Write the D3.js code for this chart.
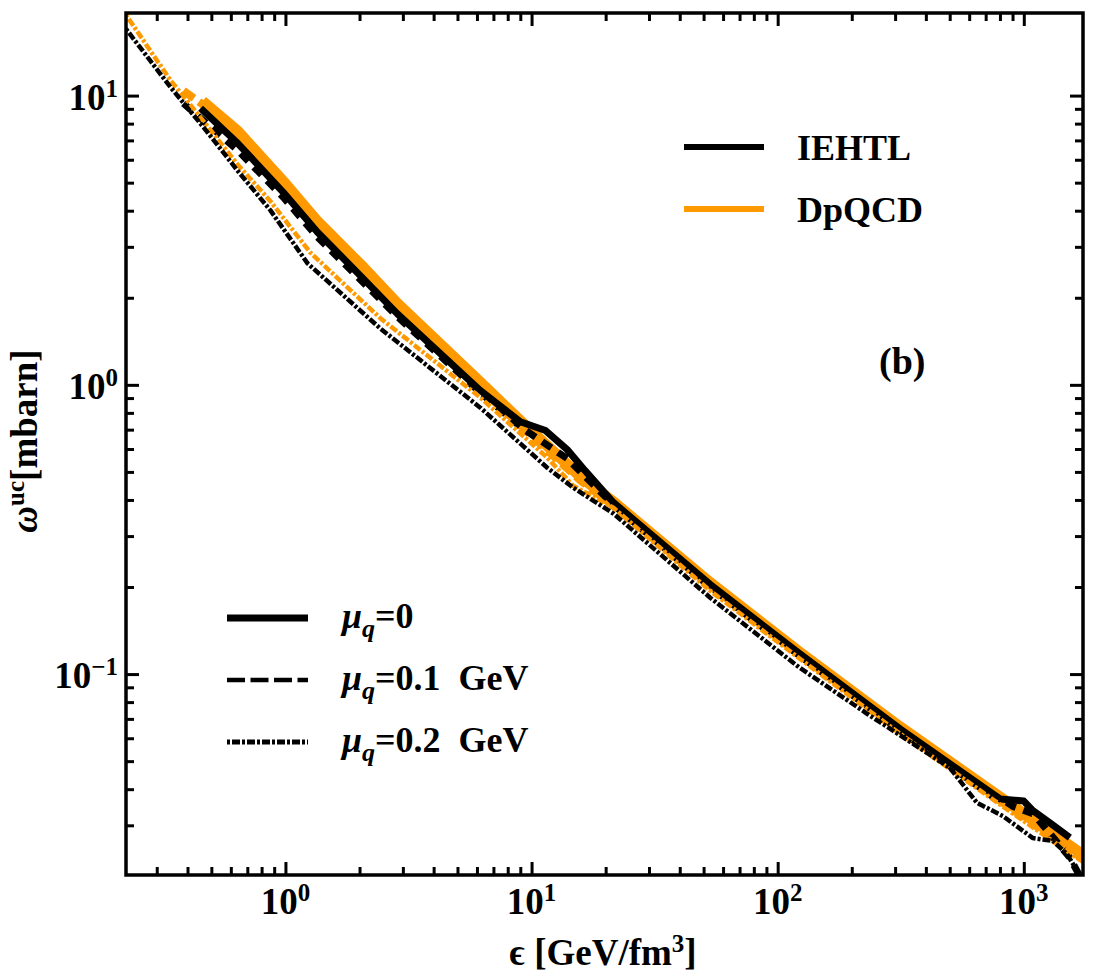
<!DOCTYPE html>
<html>
<head>
<meta charset="utf-8">
<script src="https://cdn.jsdelivr.net/npm/d3@7"></script>
<style>
  body { margin: 0; background: #fff; }
  svg text { font-family: "Liberation Serif", "Times New Roman", Tinos, "Noto Serif", "DejaVu Serif", serif; font-weight: bold; fill: #000; }
</style>
</head>
<body>
<script>
var Chart = {
  width : 1095,
  height : 980,
  left : 126,
  top : 13,
  right : 1083,
  bottom : 875
};

// energy density eps [GeV/fm^3] and omega^uc [mbarn]
// IEHTL, mu_q = 0
var iehtl0Eps = [0.452, 0.64, 0.98, 1.35, 2.07, 2.85, 6.19, 9.0, 11.4, 13.96, 16.5, 21.5, 53.2, 123, 314, 800, 1000, 1089, 1277, 1538];
var iehtl0Val = [9.04, 6.84, 4.63, 3.37, 2.33, 1.76, 0.956, 0.745, 0.695, 0.597, 0.505, 0.392, 0.204, 0.1175, 0.0647, 0.0370, 0.0364, 0.0337, 0.0306, 0.0272];
// IEHTL, mu_q = 0.1 GeV
var iehtl1Eps = [0.385, 0.64, 0.98, 1.35, 2.07, 2.85, 6.19, 9.0, 13.96, 21.5, 53.2, 123, 314, 800, 1089, 1277, 1538, 1690];
var iehtl1Val = [9.40, 6.47, 4.45, 3.24, 2.26, 1.72, 0.940, 0.716, 0.556, 0.385, 0.200, 0.1157, 0.0637, 0.0362, 0.0329, 0.0281, 0.0232, 0.0200];
// IEHTL, mu_q = 0.2 GeV
var iehtl2Eps = [0.225, 0.341, 0.465, 0.638, 0.869, 1.23, 2.43, 6.19, 11.58, 14.76, 21.5, 53.2, 123, 231, 501, 645, 822, 1089, 1313, 1496, 1700];
var iehtl2Val = [17.0, 10.7, 7.77, 5.51, 4.01, 2.63, 1.566, 0.834, 0.517, 0.441, 0.359, 0.1837, 0.1051, 0.0729, 0.0474, 0.0359, 0.0323, 0.0271, 0.0265, 0.0239, 0.0200];
// DpQCD, mu_q = 0
var dpqcd0Eps = [0.46, 0.64, 0.98, 1.35, 2.07, 2.85, 6.19, 9.0, 15.8, 21.5, 53.2, 123, 314, 800, 1738];
var dpqcd0Val = [9.56, 7.53, 5.05, 3.67, 2.55, 1.91, 1.02, 0.752, 0.481, 0.394, 0.207, 0.119, 0.0657, 0.0376, 0.0237];
// DpQCD, mu_q = 0.1 GeV
var dpqcd1Eps = [0.385, 0.46, 0.64, 0.98, 1.35, 2.07, 2.85, 6.19, 9.0, 15.8, 21.5, 53.2, 123, 314, 800, 1738];
var dpqcd1Val = [10.4, 9.33, 7.17, 4.82, 3.47, 2.41, 1.81, 0.971, 0.723, 0.467, 0.382, 0.202, 0.1167, 0.0641, 0.0365, 0.0230];
// DpQCD, mu_q = 0.2 GeV
var dpqcd2Eps = [0.225, 0.341, 0.465, 0.638, 0.869, 1.26, 2.43, 6.19, 11.58, 14.76, 21.5, 53.2, 123, 314, 800, 1738];
var dpqcd2Val = [19.0, 11.3, 8.15, 5.79, 4.31, 2.87, 1.70, 0.904, 0.560, 0.448, 0.376, 0.194, 0.1130, 0.0622, 0.0354, 0.0224];

var xMajor = [1, 10, 100, 1000];
var xMajorExp = ["0", "1", "2", "3"];
var yMajor = [0.1, 1, 10];
var yMajorExp = ["\u22121", "0", "1"];

var modelNames = ["IEHTL", "DpQCD"];
var muLabels = ["=0", "=0.1 GeV", "=0.2 GeV"];

var black = "#000000", orange = "#ff9900";

var svg = d3.select("body").append("svg")
  .attr("width", Chart.width)
  .attr("height", Chart.height);

var x = d3.scaleLog().domain([0.225, 1740]).range([Chart.left, Chart.right]);
var y = d3.scaleLog().domain([0.0202, 19.3]).range([Chart.bottom, Chart.top]);

function minors(lo, hi) {
  var out = [];
  for (var d = Math.floor(Math.log10(lo)); d <= Math.ceil(Math.log10(hi)); d++) {
    for (var k = 2; k <= 9; k++) {
      var v = k * Math.pow(10, d);
      if (v > lo && v < hi) out.push(v);
    }
  }
  return out;
}

var xMinor = minors(x.domain()[0], x.domain()[1]);
var yMinor = minors(y.domain()[0], y.domain()[1]);

svg.append("clipPath").attr("id", "clip")
  .append("rect")
  .attr("x", Chart.left).attr("y", Chart.top)
  .attr("width", Chart.right - Chart.left)
  .attr("height", Chart.bottom - Chart.top);

// curves
var line = d3.line()
  .x(function(d) { return x(d[0]); })
  .y(function(d) { return y(d[1]); });

function pairs(a, b) {
  return a.map(function(v, i) { return [v, b[i]]; });
}

var series = [
  { pts: pairs(dpqcd0Eps, dpqcd0Val), color: orange, w: 11, dash: null },
  { pts: pairs(dpqcd1Eps, dpqcd1Val), color: orange, w: 8, dash: "13,6" },
  { pts: pairs(iehtl0Eps, iehtl0Val), color: black, w: 7, dash: null },
  { pts: pairs(iehtl1Eps, iehtl1Val), color: black, w: 7, dash: "11,8" },
  { pts: pairs(dpqcd2Eps, dpqcd2Val), color: orange, w: 4.5, dash: "3,2,8,2" },
  { pts: pairs(iehtl2Eps, iehtl2Val), color: black, w: 4.5, dash: "3,2,8,2" }
];

var plot = svg.append("g").attr("clip-path", "url(#clip)");
plot.selectAll("path.curve")
  .data(series)
  .enter().append("path")
  .attr("class", "curve")
  .attr("d", function(d) { return line(d.pts); })
  .attr("fill", "none")
  .attr("stroke", function(d) { return d.color; })
  .attr("stroke-width", function(d) { return d.w; })
  .attr("stroke-dasharray", function(d) { return d.dash; })
  .attr("stroke-linejoin", "round");

// ticks on all four sides, pointing inward
function tickAxis(axis, vals, size, tr) {
  var g = svg.append("g")
    .attr("transform", tr)
    .call(axis.tickValues(vals).tickSize(size).tickFormat(""));
  g.select(".domain").remove();
  g.selectAll(".tick line").attr("stroke", "#000").attr("stroke-width", 3);
}
var bottomT = "translate(0," + Chart.bottom + ")";
var topT = "translate(0," + Chart.top + ")";
var leftT = "translate(" + Chart.left + ",0)";
var rightT = "translate(" + Chart.right + ",0)";
tickAxis(d3.axisBottom(x), xMajor, -13, bottomT);
tickAxis(d3.axisBottom(x), xMinor, -8, bottomT);
tickAxis(d3.axisTop(x), xMajor, -13, topT);
tickAxis(d3.axisTop(x), xMinor, -8, topT);
tickAxis(d3.axisLeft(y), yMajor, -13, leftT);
tickAxis(d3.axisLeft(y), yMinor, -8, leftT);
tickAxis(d3.axisRight(y), yMajor, -13, rightT);
tickAxis(d3.axisRight(y), yMinor, -8, rightT);

svg.append("rect")
  .attr("x", Chart.left).attr("y", Chart.top)
  .attr("width", Chart.right - Chart.left)
  .attr("height", Chart.bottom - Chart.top)
  .attr("fill", "none")
  .attr("stroke", "#000")
  .attr("stroke-width", 3.5);

// tick labels 10^n
function powLabel(sel, exp) {
  sel.append("tspan").text("10");
  sel.append("tspan").attr("dy", -13).attr("font-size", 25).text(exp);
}
xMajor.forEach(function(v, i) {
  var t = svg.append("text")
    .attr("x", x(v)).attr("y", 914)
    .attr("text-anchor", "middle")
    .attr("font-size", 37);
  powLabel(t, xMajorExp[i]);
});
yMajor.forEach(function(v, i) {
  var t = svg.append("text")
    .attr("x", 118).attr("y", y(v) + 14)
    .attr("text-anchor", "end")
    .attr("font-size", 37);
  powLabel(t, yMajorExp[i]);
});

// axis titles
var xt = svg.append("text")
  .attr("x", 603).attr("y", 965)
  .attr("text-anchor", "middle")
  .attr("font-size", 37);
xt.append("tspan").text("\u03f5 [GeV/fm");
xt.append("tspan").attr("dy", -13).attr("font-size", 25).text("3");
xt.append("tspan").attr("dy", 13).text("]");

var yt = svg.append("text")
  .attr("transform", "translate(37,441) rotate(-90)")
  .attr("text-anchor", "middle")
  .attr("font-size", 37);
yt.append("tspan").attr("font-style", "italic").text("\u03c9");
yt.append("tspan").attr("dy", -13).attr("font-size", 25).text("uc");
yt.append("tspan").attr("dy", 13).text("[mbarn]");

// model legend
var modelColors = [black, orange];
modelNames.forEach(function(name, i) {
  var ly = 147 + i * 62;
  svg.append("line")
    .attr("x1", 684).attr("x2", 764)
    .attr("y1", ly).attr("y2", ly)
    .attr("stroke", modelColors[i])
    .attr("stroke-width", 6);
  svg.append("text")
    .attr("x", 797).attr("y", ly + 13)
    .attr("font-size", 36)
    .text(name);
});

svg.append("text")
  .attr("x", 879).attr("y", 374)
  .attr("font-size", 38)
  .text("(b)");

// mu_q legend
var muStyles = [
  { w: 7, dash: null },
  { w: 4.5, dash: "18,5.5" },
  { w: 5, dash: "3,2,8,2" }
];
muLabels.forEach(function(lab, i) {
  var ly = 618 + i * 62;
  svg.append("line")
    .attr("x1", 227).attr("x2", 308)
    .attr("y1", ly).attr("y2", ly)
    .attr("stroke", "#000")
    .attr("stroke-width", muStyles[i].w)
    .attr("stroke-dasharray", muStyles[i].dash);
  var t = svg.append("text")
    .attr("x", 342).attr("y", ly + 10)
    .attr("font-size", 36);
  t.append("tspan").attr("font-style", "italic").text("\u03bc");
  t.append("tspan").attr("font-style", "italic").attr("dy", 9).attr("font-size", 26).text("q");
  t.append("tspan").attr("dy", -9).text(lab.replace(" ", "\u2002"));
});
</script>
</body>
</html>
